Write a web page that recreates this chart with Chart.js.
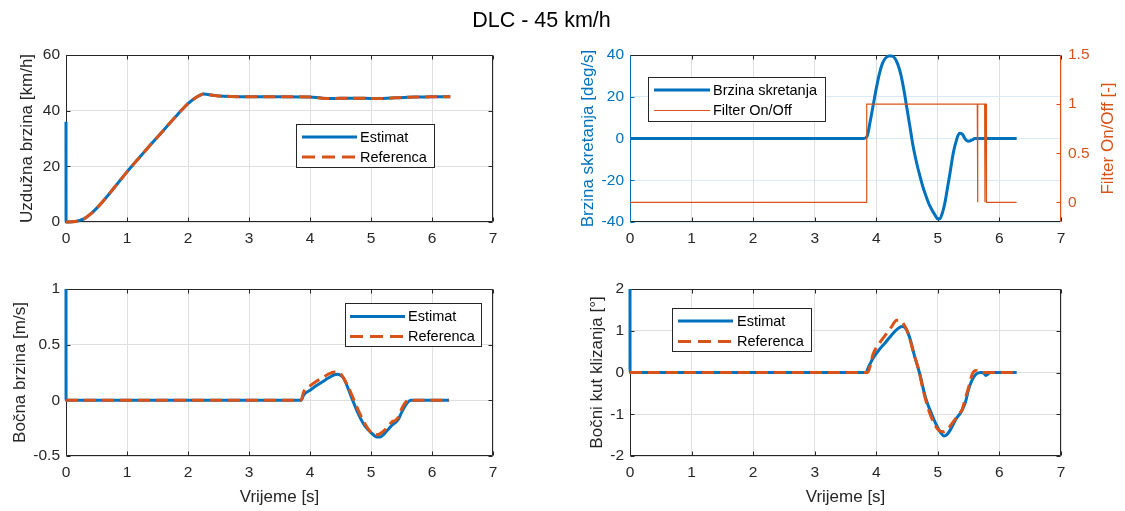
<!DOCTYPE html>
<html><head><meta charset="utf-8">
<script src="https://cdn.jsdelivr.net/npm/chart.js@4.4.1/dist/chart.umd.min.js"></script>
<style>
html,body{margin:0;padding:0;background:#fff;}
#wrap{position:relative;width:1125px;height:511px;overflow:hidden;background:#fff;}
canvas{position:absolute;left:0;top:0;}
</style></head>
<body><div id="wrap">
<canvas id="c1" width="1125" height="511"></canvas>
<canvas id="c2" width="1125" height="511"></canvas>
<canvas id="c3" width="1125" height="511"></canvas>
<canvas id="c4" width="1125" height="511"></canvas>
</div>
<script>
// ---------- data ----------
const xTicks = [0, 1, 2, 3, 4, 5, 6, 7];

// Panel 1: Uzdužna brzina [km/h]
const vxTicks = [0, 20, 40, 60];
const vxTime = [0, 0.001, 0.1, 0.2, 0.3, 0.4, 0.5, 0.6, 0.7, 0.8, 0.9, 1.0, 1.2, 1.4, 1.6, 1.8, 1.9, 2.0, 2.1, 2.2, 2.25, 2.3, 2.4, 2.5, 2.7, 3.0, 3.5, 4.0, 4.2, 4.4, 4.6, 4.8, 5.0, 5.2, 5.4, 5.6, 5.8, 6.0, 6.3];
const vxEstimat = [36, 0, 0.1, 0.4, 1.2, 2.8, 4.9, 7.3, 9.9, 12.6, 15.3, 18, 23.1, 28.1, 33, 37.9, 40.3, 42.5, 44.3, 45.6, 46, 45.9, 45.5, 45.3, 45.1, 45, 45, 44.9, 44.5, 44.4, 44.5, 44.5, 44.4, 44.4, 44.6, 44.8, 44.9, 45, 45];
const vxReferenca = [0, 0, 0.1, 0.4, 1.2, 2.8, 4.9, 7.3, 9.9, 12.6, 15.3, 18, 23.1, 28.1, 33, 37.9, 40.3, 42.5, 44.3, 45.6, 46, 45.9, 45.5, 45.3, 45.1, 45, 45, 44.9, 44.5, 44.4, 44.5, 44.5, 44.4, 44.4, 44.6, 44.8, 44.9, 45, 45];

// Panel 2: Brzina skretanja [deg/s] + Filter On/Off [-]
const yrTicks = [-40, -20, 0, 20, 40];
const filtTicks = [0, 0.5, 1, 1.5];
const yrTime = [0, 3.8, 3.85, 3.9, 3.95, 4.0, 4.05, 4.1, 4.15, 4.2, 4.25, 4.3, 4.35, 4.4, 4.45, 4.5, 4.55, 4.6, 4.65, 4.7, 4.75, 4.8, 4.85, 4.9, 4.95, 5.0, 5.03, 5.08, 5.12, 5.16, 5.2, 5.25, 5.3, 5.35, 5.4, 5.45, 5.5, 5.55, 5.6, 5.65, 6.28];
const yrRate = [0, 0, 1, 8, 16, 24, 31, 36, 38.5, 39.5, 39.5, 38.5, 35.5, 30.5, 23, 14, 5, -4, -11, -17, -22.5, -27, -31, -34, -36.5, -38.5, -38.5, -35, -30, -23, -16, -7, -1, 2.5, 2, -0.5, -1.3, -0.8, 0, 0, 0];
const filtTime = [0, 3.84, 3.845, 5.64, 5.645, 5.65, 5.76, 5.765, 5.77, 5.785, 5.79, 6.28];
const filtState = [0, 0, 1, 1, 0, 1, 1, 0, 1, 1, 0, 0];

// Panel 3: Bočna brzina [m/s]
const vyTicks = [-0.5, 0, 0.5, 1];
const vyTimeEst = [0, 0.001, 3.85, 3.9, 4.0, 4.1, 4.2, 4.3, 4.4, 4.45, 4.5, 4.55, 4.6, 4.7, 4.8, 4.9, 5.0, 5.1, 5.15, 5.2, 5.25, 5.3, 5.35, 5.4, 5.45, 5.5, 5.55, 5.6, 5.65, 5.7, 6.28];
const vyEstimat = [1, 0, 0, 0.05, 0.09, 0.13, 0.165, 0.2, 0.23, 0.235, 0.225, 0.2, 0.14, 0, -0.13, -0.23, -0.29, -0.33, -0.33, -0.31, -0.28, -0.25, -0.22, -0.2, -0.17, -0.11, -0.06, -0.02, 0, 0, 0];
const vyTimeRef = [0, 3.85, 3.9, 4.0, 4.1, 4.2, 4.3, 4.4, 4.45, 4.5, 4.55, 4.6, 4.7, 4.8, 4.9, 5.0, 5.05, 5.1, 5.2, 5.3, 5.35, 5.4, 5.45, 5.5, 5.55, 5.6, 5.65, 5.7, 6.28];
const vyReferenca = [0, 0, 0.08, 0.13, 0.17, 0.2, 0.235, 0.255, 0.255, 0.24, 0.2, 0.15, 0.03, -0.1, -0.21, -0.29, -0.31, -0.31, -0.28, -0.22, -0.19, -0.18, -0.15, -0.08, -0.03, 0, 0.01, 0, 0];

// Panel 4: Bočni kut klizanja [°]
const betaTicks = [-2, -1, 0, 1, 2];
const betaTimeEst = [0, 0.001, 3.83, 3.88, 3.95, 4.05, 4.15, 4.25, 4.35, 4.42, 4.48, 4.55, 4.62, 4.7, 4.8, 4.9, 5.0, 5.05, 5.1, 5.15, 5.2, 5.3, 5.38, 5.45, 5.5, 5.55, 5.62, 5.7, 5.75, 5.78, 5.82, 5.85, 6.28];
const betaEstimat = [2, 0, 0, 0.15, 0.35, 0.55, 0.72, 0.9, 1.05, 1.1, 1.05, 0.8, 0.4, 0, -0.6, -1.0, -1.33, -1.45, -1.52, -1.48, -1.38, -1.1, -0.94, -0.7, -0.4, -0.2, -0.04, 0, -0.02, -0.07, -0.03, 0, 0];
const betaTimeRef = [0, 3.86, 3.95, 4.05, 4.15, 4.25, 4.33, 4.38, 4.45, 4.52, 4.6, 4.7, 4.75, 4.85, 4.95, 5.01, 5.1, 5.18, 5.27, 5.35, 5.39, 5.45, 5.5, 5.56, 5.62, 5.68, 6.28];
const betaReferenca = [0, 0, 0.45, 0.7, 0.9, 1.1, 1.25, 1.25, 1.15, 0.93, 0.5, 0, -0.35, -0.9, -1.25, -1.38, -1.42, -1.32, -1.14, -0.98, -0.9, -0.6, -0.35, -0.03, 0.05, 0, 0];

// ---------- styling ----------
const W = 1125, H = 511;
const FONT = "'Liberation Sans', Arial, Helvetica, sans-serif";
const AX = '#262626';
const GRID = '#dfdfdf';
const BLUE = '#0072BD', ORANGE = '#D95319';
const BLUEGRID = '#d9eaf5';

const xy = (t, v) => t.map((x, i) => ({x: x, y: v[i]}));
const setTicks = vals => (scale => { scale.ticks = vals.map(v => ({value: v})); });

const framePlugin = {
  id: 'frame',
  beforeDatasetsDraw(chart, args, o) {
    const a = chart.chartArea, ctx = chart.ctx;
    const L = Math.round(a.left) + 0.5, R = Math.round(a.right) - 0.5;
    const T = Math.round(a.top) + 0.5, B = Math.round(a.bottom) - 0.5;
    ctx.save();
    ctx.lineWidth = 1;
    const line = (x1, y1, x2, y2, c) => { ctx.strokeStyle = c; ctx.beginPath(); ctx.moveTo(x1, y1); ctx.lineTo(x2, y2); ctx.stroke(); };
    const tl = 4;
    const xs = chart.scales.x, ys = chart.scales.y;
    xs.ticks.forEach(t => { const p = Math.round(xs.getPixelForValue(t.value)) + 0.5; line(p, B, p, B - tl, AX); line(p, T, p, T + tl, AX); });
    ys.ticks.forEach(t => { const p = Math.round(ys.getPixelForValue(t.value)) + 0.5; line(L, p, L + tl, p, o.leftColor); if (!o.y2) line(R, p, R - tl, p, o.rightColor); });
    if (o.y2) { const s2 = chart.scales.y2; s2.ticks.forEach(t => { const p = Math.round(s2.getPixelForValue(t.value)) + 0.5; line(R, p, R - tl, p, o.rightColor); }); }
    line(L, T, R, T, AX);
    line(L, B, R, B, AX);
    line(L, T, L, B, o.leftColor);
    line(R, T, R, B, o.rightColor);
    ctx.restore();
  },
  afterDraw(chart, args, o) {
    const ctx = chart.ctx;
    if (o.sideTitle) {
      const a = chart.chartArea;
      ctx.save();
      ctx.translate(o.sideTitle.x, (a.top + a.bottom) / 2);
      ctx.rotate(-Math.PI / 2);
      ctx.fillStyle = o.sideTitle.color;
      ctx.font = '17px ' + FONT;
      ctx.textAlign = 'center'; ctx.textBaseline = 'middle';
      ctx.fillText(o.sideTitle.text, 0, 0);
      ctx.restore();
    }
    if (o.suptitle) {
      ctx.save();
      ctx.fillStyle = '#000';
      ctx.font = '21.5px ' + FONT;
      ctx.textAlign = 'center'; ctx.textBaseline = 'middle';
      ctx.fillText(o.suptitle.text, o.suptitle.x, o.suptitle.y);
      ctx.restore();
    }
    const lg = o.legend;
    if (lg) {
      ctx.save();
      ctx.fillStyle = '#fff';
      ctx.fillRect(lg.x, lg.y, lg.w, lg.h);
      ctx.strokeStyle = AX; ctx.lineWidth = 1;
      ctx.strokeRect(lg.x + 0.5, lg.y + 0.5, lg.w - 1, lg.h - 1);
      lg.items.forEach((idx, k) => {
        const ds = chart.data.datasets[idx];
        const y = lg.rows[k];
        ctx.beginPath();
        ctx.setLineDash(ds.borderDash && ds.borderDash.length ? [13, 7] : []);
        ctx.lineWidth = ds.borderWidth;
        ctx.strokeStyle = ds.borderColor;
        ctx.moveTo(lg.x1, y); ctx.lineTo(lg.x2, y); ctx.stroke();
        ctx.setLineDash([]);
        ctx.fillStyle = '#000';
        ctx.font = '14.5px ' + FONT;
        ctx.textAlign = 'left'; ctx.textBaseline = 'middle';
        ctx.fillText(ds.label, lg.tx, y + 0.5);
      });
      ctx.restore();
    }
  }
};

function tickFont() { return {family: FONT, size: 15.5}; }

function makePanel(id, g, cfg) {
  const scales = {
    x: {
      type: 'linear', min: 0, max: 7,
      afterBuildTicks: setTicks(xTicks),
      grid: {color: GRID, drawTicks: false, lineWidth: 1},
      border: {display: false},
      ticks: {color: AX, font: tickFont(), padding: 7, maxRotation: 0, autoSkip: false, callback: v => String(v)},
      title: {display: !!cfg.xTitle, text: cfg.xTitle || '', color: AX, font: {family: FONT, size: 17}, padding: {top: 0, bottom: 3}},
      afterFit: s => { s.height = H - g.bottom; }
    },
    y: {
      type: 'linear', position: 'left', min: cfg.yMin, max: cfg.yMax,
      afterBuildTicks: setTicks(cfg.yTicks),
      grid: {color: cfg.yGrid || GRID, drawTicks: false, lineWidth: 1},
      border: {display: false},
      ticks: {color: cfg.yColor || AX, font: tickFont(), padding: 6, autoSkip: false, callback: v => String(v)},
      title: {display: true, text: cfg.yTitle, color: cfg.yColor || AX, font: {family: FONT, size: 17}, padding: {top: 0, bottom: 0}},
      afterFit: s => { s.width = g.left - g.padLeft; }
    }
  };
  if (cfg.y2) {
    scales.y2 = {
      type: 'linear', position: 'right', min: cfg.y2.min, max: cfg.y2.max,
      afterBuildTicks: setTicks(cfg.y2.ticks),
      grid: {display: false, drawTicks: false},
      border: {display: false},
      ticks: {color: ORANGE, font: tickFont(), padding: 7, autoSkip: false, callback: v => String(v)},
      title: {display: false},
      afterFit: s => { s.width = g.rightW; }
    };
  }
  return new Chart(document.getElementById(id), {
    type: 'line',
    data: {datasets: cfg.datasets},
    options: {
      responsive: false, animation: false, devicePixelRatio: 1,
      layout: {padding: {left: g.padLeft, top: g.top, right: W - g.right - (g.rightW || 0), bottom: 0}},
      elements: {point: {radius: 0}},
      plugins: {legend: {display: false}, tooltip: {enabled: false}, frame: cfg.frame},
      scales: scales
    },
    plugins: [framePlugin]
  });
}

function est(label, t, v, axis) {
  return {label: label, data: xy(t, v), borderColor: BLUE, borderWidth: 3, cubicInterpolationMode: 'monotone', clip: false, order: 1, yAxisID: axis || 'y'};
}
function ref(label, t, v) {
  return {label: label, data: xy(t, v), borderColor: ORANGE, borderWidth: 3, borderDash: [12, 6], cubicInterpolationMode: 'monotone', clip: false, order: 0, yAxisID: 'y'};
}

// Panel 1
makePanel('c1', {padLeft: 17, left: 66, right: 493, top: 55, bottom: 222}, {
  yMin: 0, yMax: 60, yTicks: vxTicks, yTitle: 'Uzdužna brzina [km/h]',
  datasets: [est('Estimat', vxTime, vxEstimat), ref('Referenca', vxTime, vxReferenca)],
  frame: {leftColor: AX, rightColor: AX,
    suptitle: {text: 'DLC - 45 km/h', x: 541.5, y: 21},
    legend: {x: 296, y: 124, w: 139, h: 44, x1: 302, x2: 357, tx: 360, rows: [137, 157], items: [0, 1]}}
});

// Panel 2
makePanel('c2', {padLeft: 578, left: 630, right: 1061, top: 55, bottom: 222, rightW: 64}, {
  yMin: -40, yMax: 40, yTicks: yrTicks, yTitle: 'Brzina skretanja [deg/s]', yColor: BLUE, yGrid: BLUEGRID,
  y2: {min: -0.2, max: 1.5, ticks: filtTicks},
  datasets: [
    {label: 'Brzina skretanja', data: xy(yrTime, yrRate), borderColor: BLUE, borderWidth: 3, cubicInterpolationMode: 'monotone', clip: false, order: 1, yAxisID: 'y'},
    {label: 'Filter On/Off', data: xy(filtTime, filtState), borderColor: ORANGE, borderWidth: 1.2, tension: 0, clip: false, order: 0, yAxisID: 'y2'}
  ],
  frame: {leftColor: BLUE, rightColor: ORANGE, y2: true,
    sideTitle: {text: 'Filter On/Off [-]', x: 1108, color: ORANGE},
    legend: {x: 648, y: 77, w: 178, h: 45, x1: 654, x2: 710, tx: 713, rows: [90, 110.5], items: [0, 1]}}
});

// Panel 3
makePanel('c3', {padLeft: 10, left: 66, right: 493, top: 289, bottom: 456}, {
  yMin: -0.5, yMax: 1, yTicks: vyTicks, yTitle: 'Bočna brzina [m/s]', xTitle: 'Vrijeme [s]',
  datasets: [est('Estimat', vyTimeEst, vyEstimat), ref('Referenca', vyTimeRef, vyReferenca)],
  frame: {leftColor: AX, rightColor: AX,
    legend: {x: 345, y: 303, w: 137, h: 44, x1: 350, x2: 405, tx: 408, rows: [316.5, 336.5], items: [0, 1]}}
});

// Panel 4
makePanel('c4', {padLeft: 587, left: 630, right: 1061, top: 289, bottom: 456}, {
  yMin: -2, yMax: 2, yTicks: betaTicks, yTitle: 'Bočni kut klizanja [°]', xTitle: 'Vrijeme [s]',
  datasets: [est('Estimat', betaTimeEst, betaEstimat), ref('Referenca', betaTimeRef, betaReferenca)],
  frame: {leftColor: AX, rightColor: AX,
    legend: {x: 672, y: 308, w: 140, h: 44, x1: 678, x2: 733, tx: 737, rows: [321, 341.5], items: [0, 1]}}
});
</script>
</body></html>
